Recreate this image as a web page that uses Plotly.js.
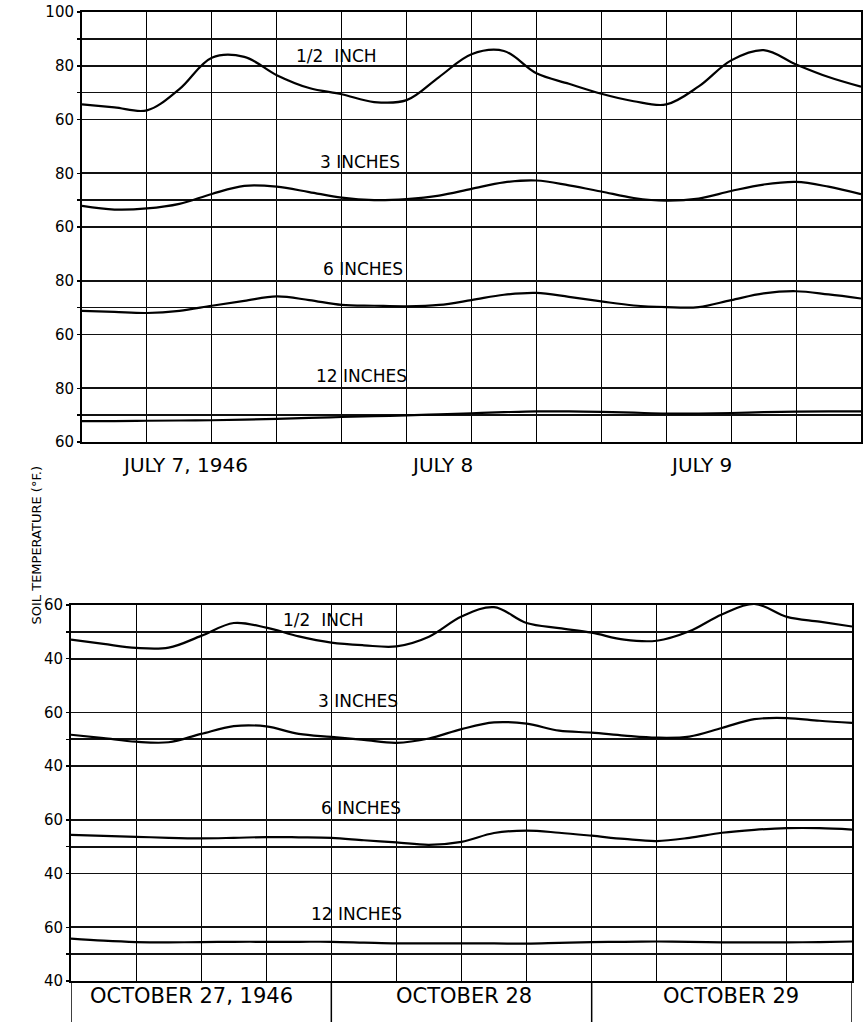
<!DOCTYPE html>
<html>
<head>
<meta charset="utf-8">
<script src="https://cdn.plot.ly/plotly-3.0.1.min.js"></script>
<style>
html,body{margin:0;padding:0;background:#fff;}
#chart{width:863px;height:1028px;}
</style>
</head>
<body>
<div id="chart"></div>
<script>
// ---------- DATA ----------
const hours = [0,3,6,9,12,15,18,21,24,27,30,33,36,39,42,45,48,51,54,57,60,63,66,69,72];

const depthLabels = ['1/2  INCH', '3 INCHES', '6 INCHES', '12 INCHES'];
const julyDays = ['JULY 7, 1946', 'JULY 8', 'JULY 9'];
const octDays = ['OCTOBER 27, 1946', 'OCTOBER 28', 'OCTOBER 29'];
const yTitle = 'SOIL TEMPERATURE (°F.)';

// July 7-9, 1946 (°F)
const julyHalfInch = [65.6,64.5,63.4,71.3,83.0,83.3,76.5,71.7,69.4,66.5,67.2,75.8,84.3,85.5,77.2,73.3,69.6,66.8,65.6,72.3,82.0,85.8,80.5,75.8,72.2];
const julyThreeIn  = [67.9,66.5,66.9,68.6,72.3,75.3,75.0,73.0,70.9,70.0,70.4,71.7,74.2,76.6,77.3,75.5,73.2,70.8,69.8,70.6,73.4,75.8,76.8,75.0,72.2];
const julySixIn    = [68.8,68.4,68.0,68.8,70.7,72.5,74.2,72.8,71.0,70.7,70.5,71.0,72.8,74.8,75.5,74.0,72.3,70.8,70.2,70.2,72.8,75.3,76.1,74.9,73.4];
const julyTwelveIn = [67.8,67.8,67.9,68.0,68.1,68.3,68.6,69.0,69.3,69.6,69.9,70.3,70.7,71.1,71.4,71.4,71.2,70.9,70.6,70.6,70.8,71.1,71.3,71.4,71.4];

// October 27-29, 1946 (°F)
const octHalfInch = [47.1,45.5,44.0,44.1,48.5,53.3,51.6,48.3,46.0,45.0,44.6,48.2,55.7,59.2,53.3,51.4,49.7,47.1,46.7,50.2,56.5,60.4,55.6,53.8,52.0];
const octThreeIn  = [51.7,50.4,49.1,48.9,52.0,54.9,54.8,52.0,50.9,49.8,48.7,50.3,53.8,56.3,55.8,53.2,52.5,51.4,50.6,51.0,54.2,57.5,57.9,56.9,56.1];
const octSixIn    = [54.4,54.0,53.7,53.3,53.1,53.3,53.6,53.5,53.3,52.4,51.6,50.7,51.8,55.1,56.0,55.2,54.1,52.9,52.1,53.3,55.2,56.3,56.9,56.9,56.4];
const octTwelveIn = [55.8,55.0,54.5,54.4,54.5,54.6,54.6,54.6,54.6,54.3,54.0,54.0,54.0,54.0,53.9,54.2,54.5,54.6,54.7,54.6,54.4,54.4,54.4,54.5,54.7];

// grid levels shown inside each stacked strip
const julyLevels = [[100,90,80,70,60],[80,70,60],[80,70,60],[80,70,60]];
const octLevels  = [[60,50,40],[60,50,40],[60,50,40],[60,50,40]];
const dayBoundaries = [0,24,48,72];

// ---------- LAYOUT HELPERS ----------
const W = 863, H = 1028;
const stripOffsets = [0,-40,-80,-120];   // each strip shifted 40 °F down on a shared scale
const FONT = 'DejaVu Sans, Liberation Sans, sans-serif';

function buildTicks(levels){
  const vals=[], text=[];
  levels.forEach((lv,i)=>lv.forEach(v=>{
    vals.push(v+stripOffsets[i]);
    text.push(v%20===0 ? String(v) : '');
  }));
  return {vals,text};
}
const jt = buildTicks(julyLevels);
const ot = buildTicks(octLevels);

const julySeries = [julyHalfInch, julyThreeIn, julySixIn, julyTwelveIn];
const octSeries  = [octHalfInch, octThreeIn, octSixIn, octTwelveIn];

const traces = [];
julySeries.forEach((s,i)=>traces.push({
  x: hours, y: s.map(v=>v+stripOffsets[i]), xaxis:'x', yaxis:'y',
  type:'scatter', mode:'lines', line:{color:'#000', width:2.2, shape:'spline', smoothing:1},
  hoverinfo:'skip'
}));
octSeries.forEach((s,i)=>traces.push({
  x: hours, y: s.map(v=>v+stripOffsets[i]), xaxis:'x2', yaxis:'y2',
  type:'scatter', mode:'lines', line:{color:'#000', width:2.2, shape:'spline', smoothing:1},
  hoverinfo:'skip'
}));

function xAxis(d0,d1,anchor){
  return {
    domain:[d0/W, d1/W], anchor:anchor, range:[0,72],
    tickmode:'linear', tick0:0, dtick:6, showgrid:true, gridcolor:'#000', gridwidth:1,
    showticklabels:false, ticks:'', zeroline:false,
    showline:true, mirror:true, linecolor:'#000', linewidth:2, fixedrange:true
  };
}
function yAxis(top,bottom,range,t,anchor){
  return {
    domain:[1-bottom/H, 1-top/H], anchor:anchor, range:range,
    tickmode:'array', tickvals:t.vals, ticktext:t.text,
    showgrid:true, gridcolor:'#111', gridwidth:1.6, zeroline:false,
    ticks:'outside', ticklen:3, tickcolor:'#000', tickwidth:1.5,
    showline:true, mirror:true, linecolor:'#000', linewidth:2,
    tickfont:{family:FONT, size:15, color:'#000'}, fixedrange:true
  };
}

const annotations = [];
// depth labels (hour, temperature in own strip)
const julyLabelPos = [[23.5,83.5],[25.7,84.1],[26.0,84.4],[25.8,84.4]];
const octLabelPos  = [[23.3,54.5],[26.5,64.2],[26.7,64.5],[26.3,64.9]];
depthLabels.forEach((lab,i)=>{
  annotations.push({xref:'x', yref:'y', x:julyLabelPos[i][0], y:julyLabelPos[i][1]+stripOffsets[i],
    text:lab, showarrow:false, font:{family:FONT, size:17, color:'#000'}});
  annotations.push({xref:'x2', yref:'y2', x:octLabelPos[i][0], y:octLabelPos[i][1]+stripOffsets[i],
    text:lab, showarrow:false, font:{family:FONT, size:17, color:'#000'}});
});
// date labels
const julyDayPos = [9.5, 33.3, 57.2];
const octDayPos  = [11.1, 36.2, 60.8];
julyDays.forEach((d,i)=>annotations.push({xref:'x', yref:'paper', x:julyDayPos[i], y:1-465/H,
  text:d, showarrow:false, font:{family:FONT, size:20, color:'#000'}}));
octDays.forEach((d,i)=>annotations.push({xref:'x2', yref:'paper', x:octDayPos[i], y:1-1010/H,
  text:d, showarrow:false, font:{family:FONT, size:21, color:'#000'}}));
// y-axis title
annotations.push({xref:'paper', yref:'paper', x:26/W, y:1-545/H, text:yTitle, textangle:-90,
  showarrow:false, font:{family:FONT, size:13, color:'#000'}});

// separators below the October chart
const shapes = dayBoundaries.map(h=>({type:'line', xref:'x2', yref:'paper', x0:h, x1:h,
  y0:1-1022/H, y1:1-981/H, line:{color:'#000', width:1.5}}));

const layout = {
  width:W, height:H, margin:{l:0,r:0,t:0,b:0},
  paper_bgcolor:'#fff', plot_bgcolor:'#fff', showlegend:false,
  xaxis: xAxis(82,861,'y'),
  yaxis: yAxis(12,442,[-60,100],jt,'x'),
  xaxis2: xAxis(71,852,'y2'),
  yaxis2: yAxis(605,981,[-80,60],ot,'x2'),
  annotations: annotations,
  shapes: shapes
};

Plotly.newPlot('chart', traces, layout, {staticPlot:true, displayModeBar:false});
</script>
</body>
</html>
